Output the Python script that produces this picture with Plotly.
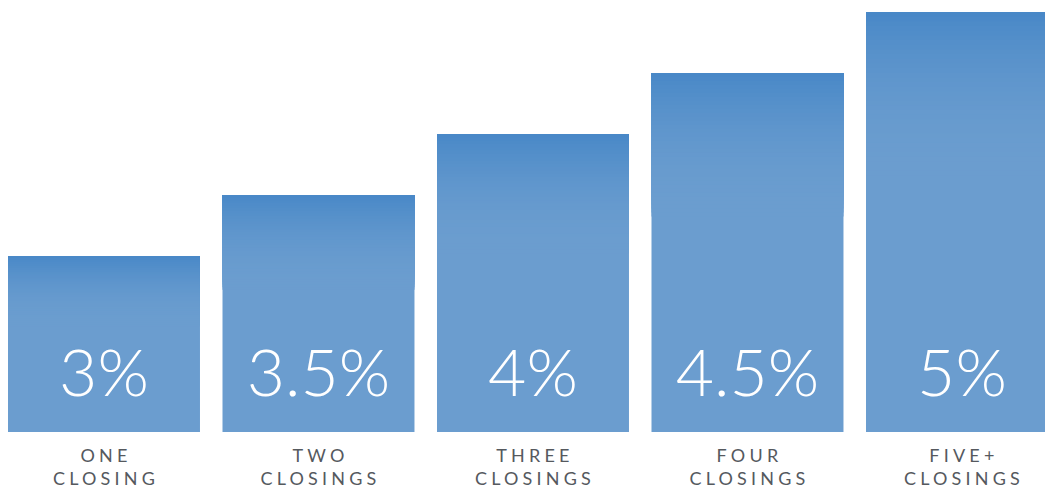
import plotly.graph_objects as go

# ---- data ----
categories = ["ONE<br>CLOSING", "TWO<br>CLOSINGS", "THREE<br>CLOSINGS",
              "FOUR<br>CLOSINGS", "FIVE+<br>CLOSINGS"]
values = [3.0, 3.5, 4.0, 4.5, 5.0]
value_labels = ["3%", "3.5%", "4%", "4.5%", "5%"]

# ---- layout constants ----
Y_MIN, Y_MAX = 1.557, 5.098
X_MIN, X_MAX = -0.4848, 4.387
BAR_W = 0.895
TEXT_Y = 1.99
LIGHT = (107, 157, 207)
DARK = (71, 135, 199)
N_BANDS = 36
GRAD_FRAC = 0.4

x = list(range(len(values)))

fig = go.Figure()
fig.add_trace(go.Bar(
    x=x, y=values, width=BAR_W,
    marker=dict(color="rgb(%d,%d,%d)" % LIGHT, line=dict(width=0)),
    hoverinfo="skip", showlegend=False,
))

# vertical gradient at the top of each bar, built from stacked bar bands
for k in range(N_BANDS, 0, -1):
    t = k / N_BANDS
    f = 1 - (1 - t) ** 2
    c = tuple(round(DARK[i] + (LIGHT[i] - DARK[i]) * f) for i in range(3))
    h = [GRAD_FRAC * t * (v - Y_MIN) for v in values]
    fig.add_trace(go.Bar(
        x=x, y=h, base=[v - hh for v, hh in zip(values, h)], width=BAR_W,
        marker=dict(color="rgb(%d,%d,%d)" % c, line=dict(width=0)),
        hoverinfo="skip", showlegend=False,
    ))

fig.add_trace(go.Scatter(
    x=x, y=[TEXT_Y] * len(values), mode="text", text=value_labels,
    textposition="middle center",
    textfont=dict(family="Lato", size=66, color="white", weight=300),
    hoverinfo="skip", showlegend=False, cliponaxis=False,
))

fig.update_layout(
    width=1049, height=496,
    margin=dict(l=0, r=4, t=0, b=64, pad=0),
    barmode="overlay",
    plot_bgcolor="white", paper_bgcolor="white",
    xaxis=dict(range=[X_MIN, X_MAX], tickmode="array", tickvals=x,
               ticktext=categories, showgrid=False, zeroline=False,
               showline=False, ticks="", ticklabelstandoff=11,
               tickfont=dict(family="Lato", size=18, color="#55595e")),
    yaxis=dict(range=[Y_MIN, Y_MAX], visible=False, showgrid=False,
               zeroline=False),
)

post = ("document.body.style.margin='0';"
        "document.body.style.overflow='hidden';"
        "document.querySelectorAll('.xtick text').forEach(function(t){"
        "t.style.letterSpacing='4.2px';"
        "var tr=t.getAttribute('transform')||'';"
        "t.setAttribute('transform', tr+' translate(2,0)');});")
fig.write_html("out.html", post_script=post,
               config={"displayModeBar": False, "staticPlot": True})
